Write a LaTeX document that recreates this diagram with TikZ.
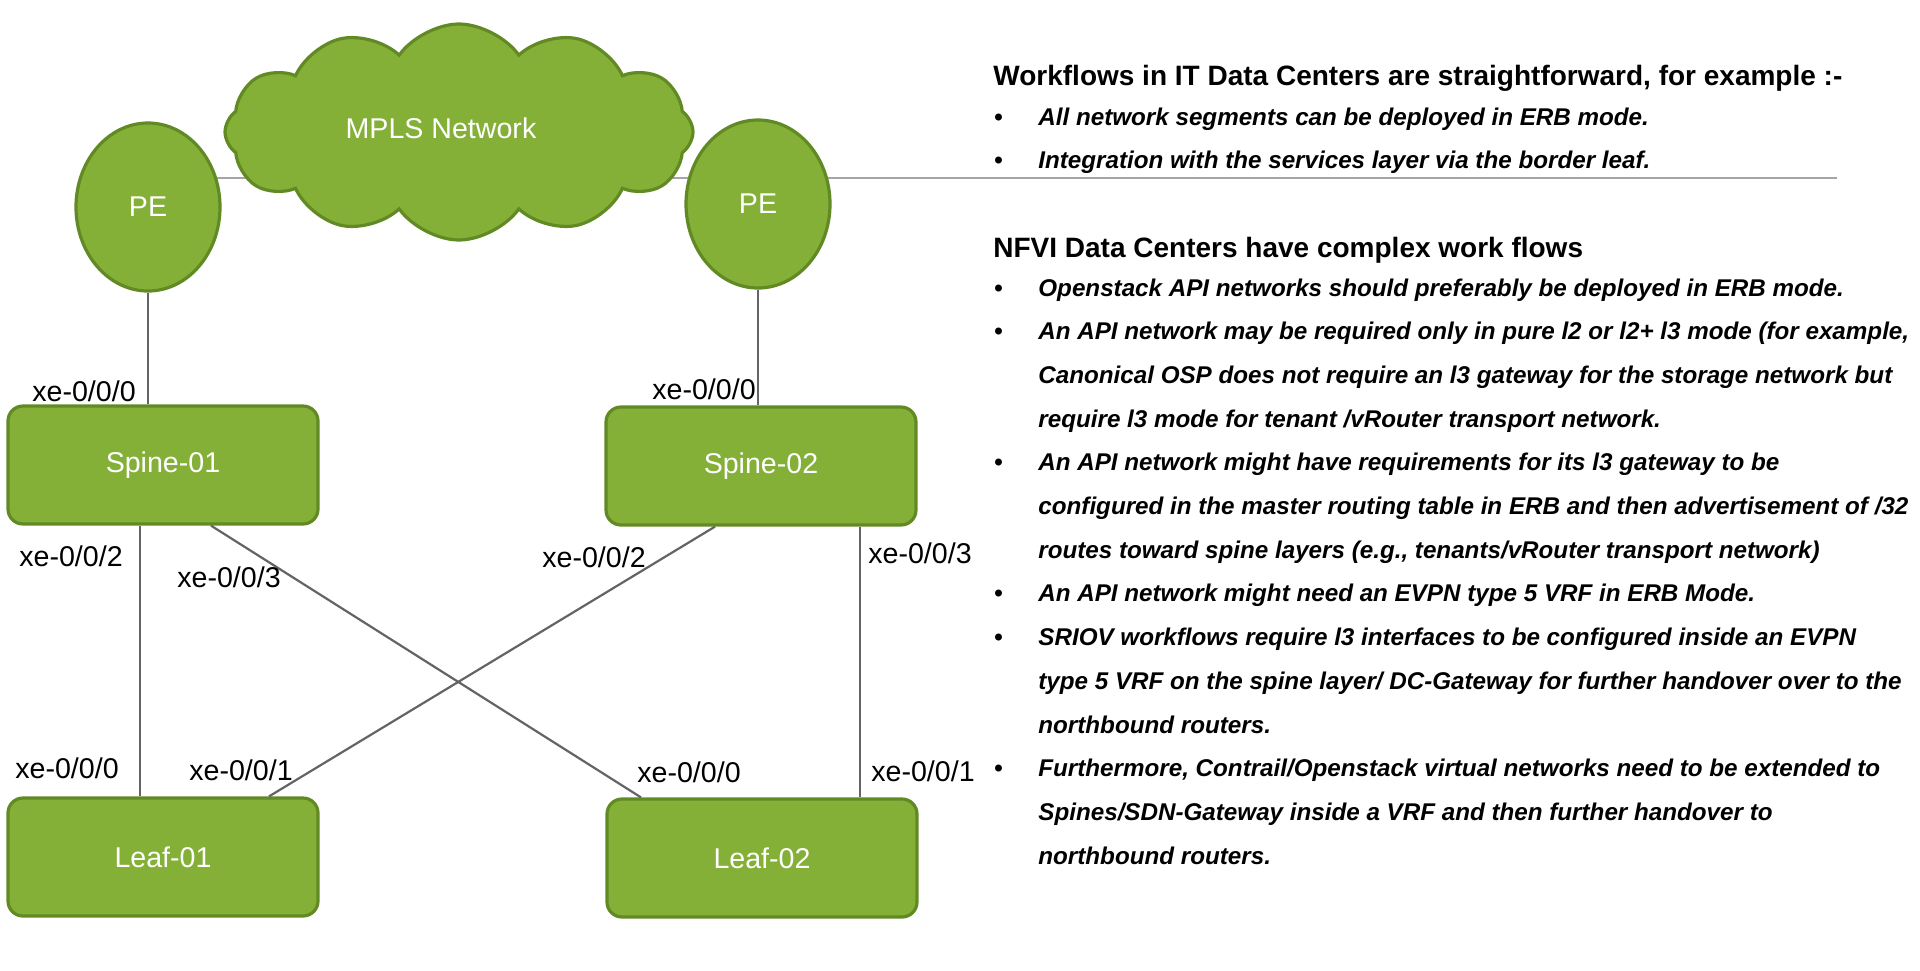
\documentclass[tikz,border=0pt]{standalone}
\usepackage{fontspec}
\setmainfont{Liberation Sans}
\usepackage{tikz}
\usetikzlibrary{shapes.geometric,shapes.symbols}
\definecolor{leafgreen}{RGB}{132,176,56}
\definecolor{edgegreen}{RGB}{98,138,36}
\definecolor{wiregray}{RGB}{100,100,100}
\definecolor{rulegray}{RGB}{165,165,165}

\begin{document}
\begin{tikzpicture} [x = 0.5pt, y = -0.5pt,
	box/.style = {draw = edgegreen,
		line width = 1.6pt,
		fill = leafgreen,
		rounded corners = 7.5pt,
		minimum width = 155pt,
		minimum height = 59pt,
		text = white,
		font = \fontsize{14.3}{16}\selectfont},
	pe/.style = {ellipse,
		draw = edgegreen,
		line width = 1.6pt,
		fill = leafgreen,
		minimum width = 72pt,
		minimum height = 84pt,
		text = white,
		font = \fontsize{14.3}{16}\selectfont},
	net/.style = {cloud, cloud puffs = 12, cloud puff arc = 110,
		draw = edgegreen,
		line width = 1.6pt,
		fill = leafgreen,
		minimum width = 234pt,
		minimum height = 108pt},
	netname/.style = {text = white, inner sep = 0pt,
		font = \fontsize{14.3}{16}\selectfont},
	port/.style = {inner sep = 0pt, font = \fontsize{14.3}{16}\selectfont},
	link/.style = {draw = wiregray, line width = 1.1pt},
	head/.style = {anchor = base west, inner sep = 0pt,
		font = \fontsize{14}{16}\selectfont\bfseries},
	points/.style = {anchor = base west, inner sep = 0pt,
		font = \fontsize{12.1}{21.85}\selectfont\bfseries\itshape}]

	\useasboundingbox (0,0) rectangle (1920,970);

	% rule behind the cloud
	\coordinate (ruleL) at (200,178);
	\coordinate (ruleR) at (1837,178);
	\draw [rulegray, line width = 1pt] (ruleL) -- (ruleR);

	\node (MPLS) [net] at (459,132) {};
	\node (MPLSname) [netname] at (441,128) {MPLS Network};
	\node (PE1) [pe] at (148,207) {PE};
	\node (PE2) [pe] at (758,204) {PE};

	\node (S1) [box] at (163,465) {Spine-01};
	\node (S2) [box] at (761,466) {Spine-02};
	\node (L1) [box] at (163,857) {Leaf-01};
	\node (L2) [box] at (762,858) {Leaf-02};

	\draw [link] (PE1.south) -- (PE1.south |- S1.north);
	\draw [link] (PE2.south) -- (PE2.south |- S2.north);
	\draw [link] ([xshift = -11.5pt]S1.south) -- ([xshift = -11.5pt]L1.north);
	\draw [link] ([xshift = 24pt]S1.south) -- ([xshift = -60.5pt]L2.north);
	\draw [link] ([xshift = -23pt]S2.south) -- ([xshift = 53pt]L1.north);
	\draw [link] ([xshift = 49.5pt]S2.south) -- ([xshift = 49pt]L2.north);

	\node (pS1up) [port] at (84,391) {xe-0/0/0};
	\node (pS2up) [port] at (704,389) {xe-0/0/0};
	\node (pS1a) [port] at (71,556) {xe-0/0/2};
	\node (pS1b) [port] at (229,577) {xe-0/0/3};
	\node (pS2a) [port] at (594,557) {xe-0/0/2};
	\node (pS2b) [port] at (920,553) {xe-0/0/3};
	\node (pL1a) [port] at (67,768) {xe-0/0/0};
	\node (pL1b) [port] at (241,770) {xe-0/0/1};
	\node (pL2a) [port] at (689,772) {xe-0/0/0};
	\node (pL2b) [port] at (923,771) {xe-0/0/1};

	% notes on the right
	\node (itHead) [head] at (993,85) {Workflows in IT Data Centers are straightforward, for example :-};
	\node (itList) [points] at (994,125) {\begin{tabular}[t]{@{}p{22pt}@{}l@{}}
		{\upshape •} & All network segments can be deployed in ERB mode.\\
		{\upshape •} & Integration with the services layer via the border leaf.
	\end{tabular}};

	\node (nfviHead) [head] at (993,257) {NFVI Data Centers have complex work flows};
	\node (nfviList) [points] at (994,296) {\begin{tabular}[t]{@{}p{22pt}@{}l@{}}
		{\upshape •} & Openstack API networks should preferably be deployed in ERB mode.\\
		{\upshape •} & An API network may be required only in pure l2 or l2+ l3 mode (for example,\\
		 & Canonical OSP does not require an l3 gateway for the storage network but\\
		 & require l3 mode for tenant /vRouter transport network.\\
		{\upshape •} & An API network might have requirements for its l3 gateway to be\\
		 & configured in the master routing table in ERB and then advertisement of /32\\
		 & routes toward spine layers (e.g., tenants/vRouter transport network)\\
		{\upshape •} & An API network might need an EVPN type 5 VRF in ERB Mode.\\
		{\upshape •} & SRIOV workflows require l3 interfaces to be configured inside an EVPN\\
		 & type 5 VRF on the spine layer/ DC-Gateway for further handover over to the\\
		 & northbound routers.\\
		{\upshape •} & Furthermore, Contrail/Openstack virtual networks need to be extended to\\
		 & Spines/SDN-Gateway inside a VRF and then further handover to\\
		 & northbound routers.
	\end{tabular}};

\end{tikzpicture}
\end{document}
